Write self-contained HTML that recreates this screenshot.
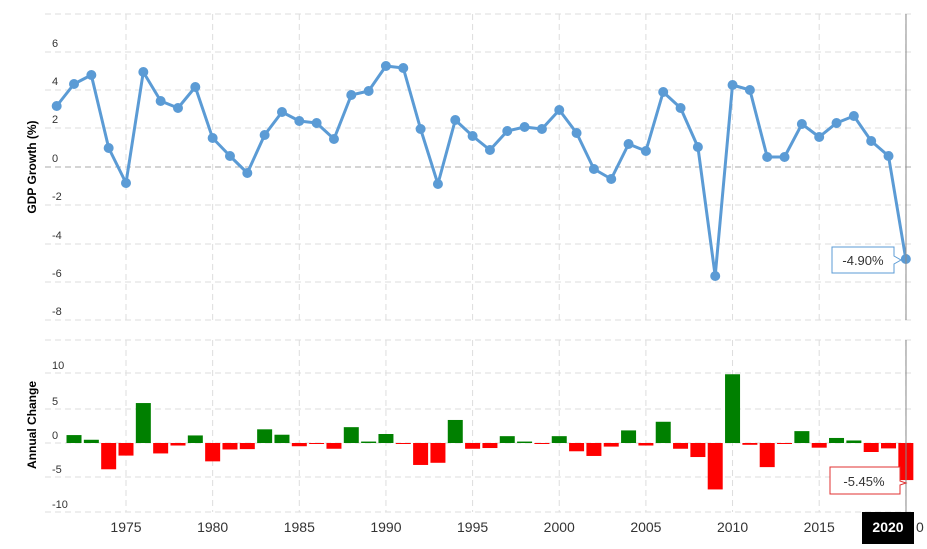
<!DOCTYPE html>
<html><head><meta charset="utf-8"><style>
body{margin:0;background:#fff;width:927px;height:544px;overflow:hidden;font-family:"Liberation Sans",sans-serif}
</style></head><body>
<svg width="927" height="544" xmlns="http://www.w3.org/2000/svg" font-family="Liberation Sans, sans-serif">
<g id="g"></g>
</svg>
<script>
const svg=document.querySelector('svg');const NS='http://www.w3.org/2000/svg';
function el(t,a,txt){const e=document.createElementNS(NS,t);for(const k in a)e.setAttribute(k,a[k]);if(txt!==undefined)e.textContent=txt;svg.appendChild(e);return e;}
const X=y=>126+(y-1975)*17.33;
// top grid
const ty={6:52,4:90,2:128,0:167,'-2':205,'-4':244,'-6':282,'-8':320};
el('line',{x1:45,x2:915,y1:14,y2:14,stroke:'#ddd','stroke-dasharray':'6,4'});
for(const k in ty){el('line',{x1:45,x2:915,y1:ty[k],y2:ty[k],stroke:k==0?'#aaa':'#ddd','stroke-dasharray':'6,4'});
el('text',{x:52,y:ty[k]-5,'font-size':11,fill:'#333'},k);}
for(let y=1975;y<=2020;y+=5){el('line',{x1:X(y),x2:X(y),y1:14,y2:320,stroke:'#ddd','stroke-dasharray':'6,4'});el('line',{x1:X(y),x2:X(y),y1:340,y2:512,stroke:'#ddd','stroke-dasharray':'6,4'});}
el('text',{transform:'translate(36,167) rotate(-90)','font-size':12,'font-weight':'bold','text-anchor':'middle',fill:'#000'},'GDP Growth (%)');
el('text',{transform:'translate(36,425) rotate(-90)','font-size':12,'font-weight':'bold','text-anchor':'middle',fill:'#000'},'Annual Change');
const py=[106,84,75,148,183,72,101,108,87,138,156,173,135,112,121,123,139,95,91,66,68,129,184,120,136,150,131,127,129,110,133,169,179,144,151,92,108,147,276,85,90,157,157,124,137,123,116,141,156,259];
let d='';py.forEach((p,i)=>{d+=(i?'L':'M')+X(1971+i).toFixed(1)+','+p;});
el('path',{d:d,fill:'none',stroke:'#5b9bd5','stroke-width':3,'stroke-linejoin':'round'});
py.forEach((p,i)=>el('circle',{cx:X(1971+i),cy:p,r:5,fill:'#5b9bd5'}));
// bottom grid
const by={10:373,5:409,0:443,'-5':477,'-10':512};
el('line',{x1:45,x2:915,y1:340,y2:340,stroke:'#ddd','stroke-dasharray':'6,4'});
for(const k in by){el('line',{x1:45,x2:915,y1:by[k],y2:by[k],stroke:'#ddd','stroke-dasharray':'6,4'});
el('text',{x:52,y:by[k]-4,'font-size':11,fill:'#333'},k);}
for(let i=1;i<py.length;i++){const dv=(py[i-1]-py[i])/19.17;const h=dv*6.9;const x=X(1971+i)-7.5;
el('rect',{x:x,width:15,y:h>0?443-h:443,height:Math.max(Math.abs(h),1),fill:h>0?'#008000':'#ff0000'});}
el('line',{x1:906,x2:906,y1:14,y2:320,stroke:'#888'});
el('line',{x1:906,x2:906,y1:340,y2:515,stroke:'#888'});
// x labels
for(let y=1975;y<=2015;y+=5)el('text',{x:X(y),y:532,'font-size':14,'text-anchor':'middle',fill:'#333'},y);
el('text',{x:916,y:532,'font-size':14,fill:'#333'},'0');
el('rect',{x:862,y:512,width:52,height:32,fill:'#000'});
el('text',{x:888,y:532,'font-size':14,'font-weight':'bold','text-anchor':'middle',fill:'#fff'},'2020');
// tooltips
el('path',{d:'M832,247 H894 V256 L901,260 L894,264 V273 H832 Z',fill:'#fff',stroke:'#5b9bd5'});
el('text',{x:863,y:265,'font-size':13,'text-anchor':'middle',fill:'#333'},'-4.90%');
el('path',{d:'M830,467 H900 V481 L906,483 L900,485 V494 H830 Z',fill:'#fff',stroke:'#e03030'});
el('text',{x:864,y:486,'font-size':13,'text-anchor':'middle',fill:'#333'},'-5.45%');
</script>
</body></html>
